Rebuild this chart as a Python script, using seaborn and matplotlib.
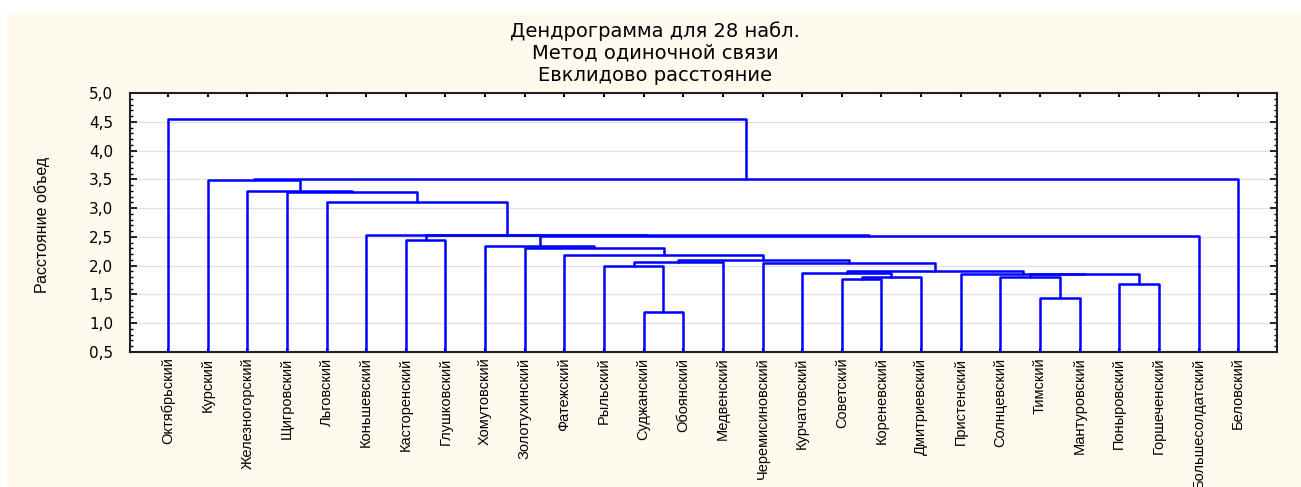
import numpy as np
import pandas as pd
import matplotlib
matplotlib.use("Agg")
import matplotlib.pyplot as plt
import matplotlib.ticker as mticker
from matplotlib.patches import Rectangle
import seaborn as sns

# Districts in the order of the tree's leaves (left to right)
districts = [
    "Октябрьский", "Курский", "Железногорский", "Щигровский", "Льговский",
    "Коньшевский", "Касторенский", "Глушковский", "Хомутовский", "Золотухинский",
    "Фатежский", "Рыльский", "Суджанский", "Обоянский", "Медвенский",
    "Черемисиновский", "Курчатовский", "Советский", "Кореневский", "Дмитриевский",
    "Пристенский", "Солнцевский", "Тимский", "Мантуровский", "Поныровский",
    "Горшеченский", "Большесолдатский", "Беловский",
]

# Single linkage steps: ids 0-27 are leaves, 28+ are the clusters made by earlier steps
merge_left = [12, 22, 24, 17, 31, 21, 16, 33, 20, 34, 11, 15, 38, 40,
              10, 9, 8, 6, 44, 45, 5, 4, 3, 2, 1, 52, 0]
merge_right = [13, 23, 25, 18, 19, 29, 32, 30, 35, 36, 28, 37, 14, 39,
               41, 42, 43, 7, 26, 46, 47, 48, 49, 50, 51, 27, 53]
merge_dist = [1.19, 1.44, 1.68, 1.77, 1.80, 1.81, 1.88, 1.85, 1.86, 1.90, 1.99, 2.05, 2.07, 2.10,
              2.19, 2.31, 2.34, 2.44, 2.52, 2.53, 2.54, 3.10, 3.28, 3.29, 3.48, 3.50, 4.55]

y_ticks = [0.5, 1.0, 1.5, 2.0, 2.5, 3.0, 3.5, 4.0, 4.5, 5.0]

title = "Дендрограмма для 28 набл.\nМетод одиночной связи\nЕвклидово расстояние"
y_label = "Расстояние объед"

# build the "П" shaped links
n = len(districts)
y_floor = y_ticks[0]
pos = {i: float(i) for i in range(n)}
level = {i: y_floor for i in range(n)}
rows = []
for k, (a, b, d) in enumerate(zip(merge_left, merge_right, merge_dist)):
    pts = [(pos[a], level[a]), (pos[a], d), (pos[b], d), (pos[b], level[b])]
    for j, (x, y) in enumerate(pts):
        rows.append({"link": k, "step": j, "x": x, "y": y})
    pos[n + k] = (pos[a] + pos[b]) / 2
    level[n + k] = d
links = pd.DataFrame(rows)

sns.set_style("ticks")
plt.rcParams["font.family"] = ["DejaVu Sans"]
plt.rcParams["text.color"] = "black"
plt.rcParams["axes.labelcolor"] = "black"
label_font = ["Liberation Sans", "DejaVu Sans"]

cream = "#fff9ee"
fig = plt.figure(figsize=(13.01, 4.87), dpi=100)
fig.patch.set_facecolor("white")
fig.add_artist(Rectangle((7 / 1301, 0), 1, 1 - 12 / 487, transform=fig.transFigure,
                         facecolor=cream, edgecolor="none", zorder=-10))

ax = fig.add_axes([130 / 1301, 135 / 487, 1147 / 1301, 259 / 487])
ax.set_facecolor("white")

sns.lineplot(data=links, x="x", y="y", units="link", estimator=None, sort=False,
             color="#0000ff", linewidth=1.8, ax=ax, zorder=3)

ax.set_xlim(-0.96, n - 0.02)
ax.set_ylim(y_ticks[0], y_ticks[-1])

ax.set_xticks(range(n))
ax.set_xticklabels(districts, rotation=90, fontsize=10.5, family=label_font)
ax.set_yticks(y_ticks)
ax.yaxis.set_major_formatter(mticker.FuncFormatter(lambda v, p: f"{v:.1f}".replace(".", ",")))
ax.yaxis.set_minor_locator(mticker.MultipleLocator(0.1))
ax.xaxis.set_minor_locator(mticker.NullLocator())

ax.tick_params(axis="x", which="major", direction="in", top=True, bottom=True,
               length=3, width=1.5, pad=4, colors="black")
ax.tick_params(axis="y", which="major", direction="in", left=True, right=True,
               length=5, width=1.2, pad=12, labelsize=11, colors="black")
ax.tick_params(axis="y", which="minor", direction="in", left=True, right=True,
               length=2.5, width=1, colors="black")

ax.yaxis.grid(True, color="#e2e2e2", linewidth=1, zorder=0)
ax.xaxis.grid(False)
for s in ax.spines.values():
    s.set_visible(True)
    s.set_linewidth(1.5)
    s.set_color("#202020")

ax.set_xlabel("")
ax.set_ylabel(y_label, fontsize=11.5, family=label_font)
ax.yaxis.set_label_coords(-0.07, 0.49)

fig.text(655 / 1301, 1 - 21 / 487, title, ha="center", va="top",
         fontsize=14, linespacing=1.2, color="black")

fig.savefig("out.png", dpi=100, facecolor=fig.get_facecolor())
